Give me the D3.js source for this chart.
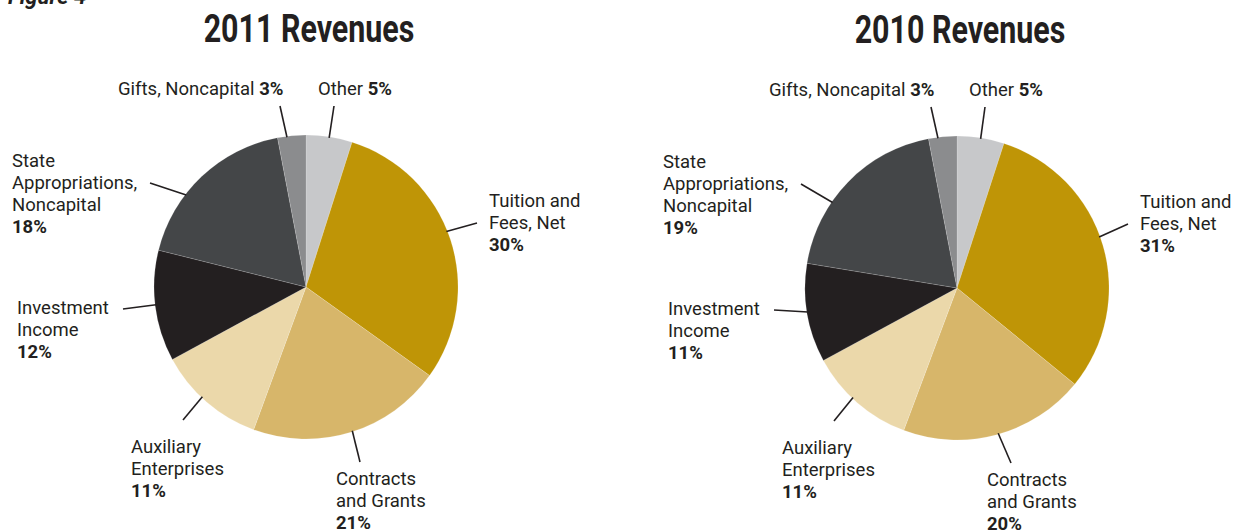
<!DOCTYPE html>
<html>
<head>
<meta charset="utf-8">
<script src="https://cdn.jsdelivr.net/npm/d3@7"></script>
<style>
  html, body { margin: 0; padding: 0; background: #ffffff; }
  svg { display: block; }
  text { font-family: Roboto, "Open Sans", sans-serif; fill: #231f20; }
</style>
</head>
<body>
<svg id="chart" width="1234" height="531"></svg>
<script>
// ---------------- DATA ----------------
const categories = [
  "Other",
  "Tuition and Fees, Net",
  "Contracts and Grants",
  "Auxiliary Enterprises",
  "Investment Income",
  "State Appropriations, Noncapital",
  "Gifts, Noncapital"
];
const categoryLines = [
  ["Other"],
  ["Tuition and", "Fees, Net"],
  ["Contracts", "and Grants"],
  ["Auxiliary", "Enterprises"],
  ["Investment", "Income"],
  ["State", "Appropriations,", "Noncapital"],
  ["Gifts, Noncapital"]
];
const values2011 = [4.9, 30.0, 20.7, 11.5, 11.8, 18.1, 3.0];
const values2010 = [5.0, 30.9, 19.8, 11.4, 10.5, 19.4, 3.0];
const pctLabels2011 = ["5%", "30%", "21%", "11%", "12%", "18%", "3%"];
const pctLabels2010 = ["5%", "31%", "20%", "11%", "11%", "19%", "3%"];
const colors = ["#c7c8ca", "#bf9506", "#d7b66a", "#ebd8aa", "#231f20", "#444648", "#8b8c8e"];
const titles = ["2011 Revenues", "2010 Revenues"];
const figureLabel = "Figure 4";

// ---------------- LAYOUT ----------------
const R = 152;
const charts = [
  { cx: 306, cy: 287, values: values2011, pcts: pctLabels2011, title: titles[0] },
  { cx: 957, cy: 288, values: values2010, pcts: pctLabels2010, title: titles[1] }
];
// label anchor (left x, first baseline) relative to pie centre; leader outer end; inner fraction along slice
const labelLayout = [
  { dx: 12,   dy: -192, ox: 28,   oy: -181, frac: 0.5 },
  { dx: 183,  dy: -80,  ox: 171,  oy: -64,  frac: 0.47 },
  { dx: 30,   dy: 198,  ox: 54,   oy: 175,  frac: 0.49 },
  { dx: -175, dy: 165.5,ox: -123, oy: 133,  frac: 0.56 },
  { dx: -289, dy: 27,   ox: -183, oy: 22,   frac: 0.51 },
  { dx: -294, dy: -120.5,ox: -156,oy: -104, frac: 0.36 },
  { dx: -188, dy: -192, ox: -26,  oy: -181, frac: 0.33 }
];
const fontSize = 18.5, sx = 1.0, lineH = 22.2;

const svg = d3.select("#chart");

svg.append("text")
  .attr("transform", "translate(8,4)")
  .attr("font-size", 22).attr("font-weight", 700).attr("font-style", "italic")
  .text(figureLabel);

const pie = d3.pie().sort(null).value(d => d);
const arc = d3.arc().innerRadius(0).outerRadius(R);

charts.forEach(c => {
  const g = svg.append("g").attr("transform", `translate(${c.cx},${c.cy})`);
  const arcs = pie(c.values);

  g.selectAll("path.slice").data(arcs).enter().append("path")
    .attr("class", "slice")
    .attr("d", arc)
    .attr("fill", (d, i) => colors[i])
    .attr("stroke", "#ffffff").attr("stroke-opacity", 0.25).attr("stroke-width", 0.6);

  // title
  g.append("text")
    .attr("transform", `translate(3,-245) scale(0.8,1)`)
    .attr("text-anchor", "middle")
    .attr("font-size", 38).attr("font-weight", 700)
    .text(c.title);

  // leaders + labels
  arcs.forEach((d, i) => {
    const L = labelLayout[i];
    const a = d.startAngle + (d.endAngle - d.startAngle) * L.frac;
    const ix = Math.sin(a) * (R - 1), iy = -Math.cos(a) * (R - 1);
    g.append("line")
      .attr("x1", ix).attr("y1", iy).attr("x2", L.ox).attr("y2", L.oy)
      .attr("stroke", "#231f20").attr("stroke-width", 1.6);

    const lines = categoryLines[i];
    const lg = g.append("g").attr("transform", `translate(${L.dx},${L.dy}) scale(${sx},1)`)
      .attr("font-size", fontSize);
    if (lines.length === 1) {
      const t = lg.append("text").attr("x", 0).attr("y", 0);
      t.append("tspan").text(lines[0] + " ");
      t.append("tspan").attr("font-weight", 700).text(c.pcts[i]);
    } else {
      lines.forEach((ln, k) => {
        lg.append("text").attr("x", 0).attr("y", k * lineH).text(ln);
      });
      lg.append("text").attr("x", 0).attr("y", lines.length * lineH)
        .attr("font-weight", 700).text(c.pcts[i]);
    }
  });
});
</script>
</body>
</html>
